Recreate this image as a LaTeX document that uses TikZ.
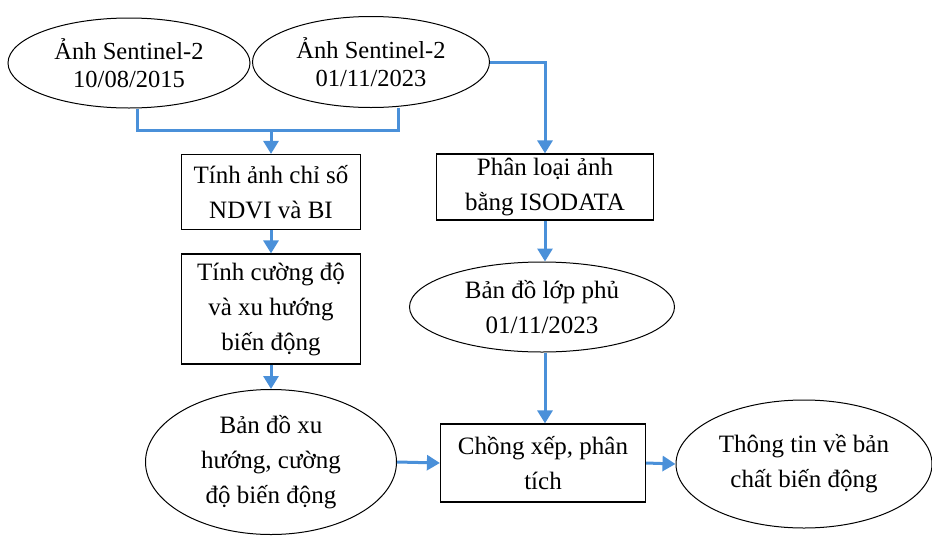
\documentclass[tikz,border=0pt]{standalone}
\usepackage{fontspec}
\setmainfont{Liberation Serif}
\usetikzlibrary{shapes.geometric,arrows.meta}
\definecolor{flow}{RGB}{74,144,217}
\begin{document}
\begin{tikzpicture}[x=1pt,y=-1pt,
  every node/.style={align=center,inner sep=0pt,font=\fontsize{25}{35}\selectfont},
  oval/.style={ellipse,draw=black,line width=1pt},
  topoval/.style={oval,font=\fontsize{24.5}{28.5}\selectfont},
  stepbox/.style={rectangle,draw=black,line width=1.2pt},
  link/.style={draw=flow,line width=3pt},
  arr/.style={link,-{Triangle[width=15pt,length=13pt]}}]
\useasboundingbox (0,0) rectangle (932,536);
\node[topoval,minimum width=242pt,minimum height=90pt] (e1) at (129,63) {Ảnh Sentinel-2\\10/08/2015};
\node[topoval,minimum width=237pt,minimum height=91pt] (e2) at (371,62) {Ảnh Sentinel-2\\01/11/2023};
\node[stepbox,minimum width=179pt,minimum height=75pt] (b1) at (271,192) {Tính ảnh chỉ số\\NDVI và BI};
\node[stepbox,minimum width=179pt,minimum height=110pt] (b2) at (271,309) {Tính cường độ\\và xu hướng\\biến động};
\node[oval,minimum width=251pt,minimum height=145pt] (e3) at (271,462) {Bản đồ xu\\hướng, cường\\độ biến động};
\node[stepbox,minimum width=217pt,minimum height=66pt] (b3) at (545,187) {Phân loại ảnh\\bằng ISODATA};
\node[oval,minimum width=265pt,minimum height=90pt] (e4) at (542,307) {Bản đồ lớp phủ\\01/11/2023};
\node[stepbox,minimum width=205pt,minimum height=78pt] (b4) at (543,463) {Chồng xếp, phân\\tích};
\node[oval,minimum width=256pt,minimum height=128pt] (e5) at (804,464) {Thông tin về bản\\chất biến động};
\coordinate (j) at (271,130);
\draw[link] ([xshift=8pt]e1.south) |- (j) -| ([xshift=27pt]e2.south);
\draw[arr] (j) -- (b1.north);
\draw[arr] (e2.east) -| (b3.north);
\draw[arr] (b1.south) -- (b2.north);
\draw[arr] (b2.south) -- (e3.north);
\draw[arr] (b3.south) -- (b3.south |- e4.north);
\draw[arr] (b3.south |- e4.south) -- (b3.south |- b4.north);
\draw[arr] (e3.east) -- (b4.west);
\draw[arr] (b4.east) -- (e5.west);
\end{tikzpicture}
\end{document}
